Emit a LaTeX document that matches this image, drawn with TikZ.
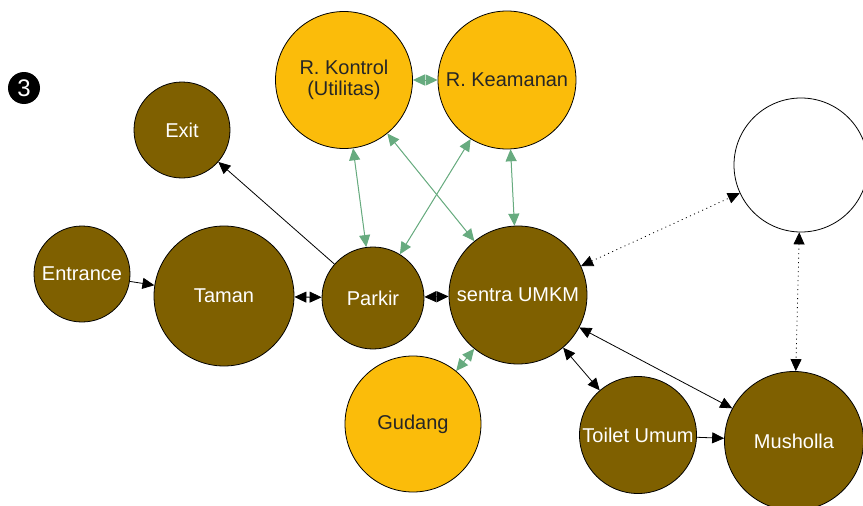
\documentclass[tikz,border=0pt]{standalone}
\usepackage{fontspec}
\setmainfont{Liberation Sans}
\usetikzlibrary{arrows.meta}
\definecolor{coklat}{RGB}{127,96,0}
\definecolor{kuning}{RGB}{251,188,10}
\definecolor{hijau}{RGB}{103,171,127}

\begin{document}
\begin{tikzpicture}[x=1pt,y=-1pt,
	ruang/.style={circle,draw=black,line width=0.8pt,inner sep=0pt,align=center,font=\fontsize{20}{21}\selectfont},
	utama/.style={ruang,fill=coklat,text=white},
	servis/.style={ruang,fill=kuning,text=black!85},
	tip/.style={-{Triangle[length=12pt,width=11pt]}},
	dua/.style={{Triangle[length=12pt,width=11pt]}-{Triangle[length=12pt,width=11pt]}},
	hubung/.style={dua,draw=hijau,fill=hijau,line width=1pt},
	titik/.style={dua,line width=0.8pt,dash pattern=on 1pt off 3.5pt}]
	\useasboundingbox (0,0) rectangle (863,506);
	\node[circle,fill=black,text=white,minimum size=32pt,inner sep=0pt,font=\fontsize{24}{26}\selectfont] (nomor) at (24,88) {3};
	\node[utama,minimum size=96pt] (exit) at (182,130) {Exit};
	\node[utama,minimum size=96pt] (entrance) at (82,274) {Entrance};
	\node[utama,minimum size=140pt] (taman) at (224,296) {Taman};
	\node[utama,minimum size=102pt] (parkir) at (373,298) {Parkir};
	\node[utama,minimum size=138pt] (sentra) at (518,295) {sentra UMKM};
	\node[servis,minimum size=137pt] (kontrol) at (344,80) {R. Kontrol\\(Utilitas)};
	\node[servis,minimum size=138pt] (keamanan) at (507,80) {R. Keamanan};
	\node[ruang,fill=white,minimum size=134pt] (kosong) at (801,165) {};
	\node[servis,minimum size=136pt] (gudang) at (413,424) {Gudang};
	\node[utama,minimum size=117pt] (toilet) at (638,435) {Toilet Umum};
	\node[utama,minimum size=139pt] (musholla) at (794,441) {Musholla};
	\draw[tip,line width=0.8pt] (entrance) -- (taman);
	\draw[dua,line width=0.8pt] (taman) -- (parkir);
	\draw[dua,line width=0.8pt] (parkir) -- (sentra);
	\draw[tip,line width=0.8pt] (parkir) -- (exit);
	\draw[hubung] (kontrol) -- (keamanan);
	\draw[hubung] (kontrol) -- (parkir);
	\draw[hubung] (keamanan) -- (parkir);
	\draw[hubung] (kontrol) -- (sentra);
	\draw[hubung] (keamanan) -- (sentra);
	\draw[hubung] (gudang) -- (sentra);
	\draw[dua,line width=0.8pt] (sentra) -- (toilet);
	\draw[dua,line width=0.8pt] (sentra) -- (musholla);
	\draw[tip,line width=0.8pt] (toilet) -- (musholla);
	\draw[titik] (sentra) -- (kosong);
	\draw[titik] (kosong) -- (musholla);
\end{tikzpicture}
\end{document}
